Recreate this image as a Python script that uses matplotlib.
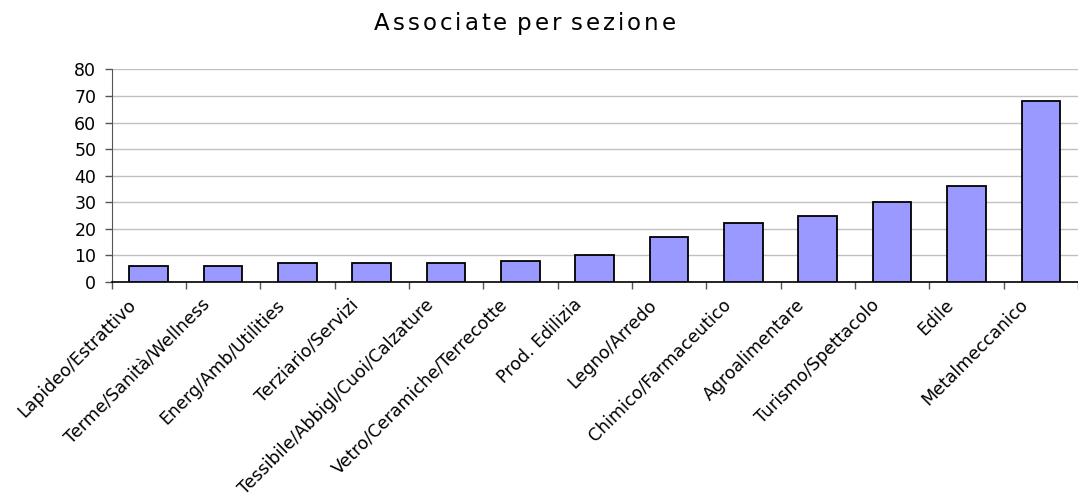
import matplotlib
matplotlib.use("Agg")
import matplotlib.pyplot as plt
import matplotlib.transforms as mtransforms
from matplotlib.font_manager import FontProperties
import numpy as np

sezioni = ["Lapideo/Estrattivo", "Terme/Sanità/Wellness", "Energ/Amb/Utilities",
           "Terziario/Servizi", "Tessibile/Abbigl/Cuoi/Calzature",
           "Vetro/Ceramiche/Terrecotte", "Prod. Edilizia", "Legno/Arredo",
           "Chimico/Farmaceutico", "Agroalimentare", "Turismo/Spettacolo",
           "Edile", "Metalmeccanico"]
associate = [6, 6, 7, 7, 7, 8, 10, 17, 22, 25, 30, 36, 68]
y_ticks = [0, 10, 20, 30, 40, 50, 60, 70, 80]
titolo = "Associate per sezione"

plt.rcParams["font.family"] = ["DejaVu Sans"]

fig = plt.figure(figsize=(10.78, 4.99), dpi=100)
ax = fig.add_axes([0.1035, 0.435, 0.8965, 0.426])

x = np.arange(len(sezioni))
ax.bar(x, associate, width=0.52, color="#9999ff", edgecolor="black", linewidth=1.3, zorder=3)

ax.set_xlim(-0.5, len(sezioni) - 0.5)
ax.set_ylim(0, 80)
ax.set_yticks(y_ticks)
ax.yaxis.grid(True, color="#c0c0c0", lw=1.0, zorder=0)
ax.tick_params(axis="y", labelsize=12.5, length=5, width=1, color="#555555", pad=6)

ax.set_xticks(x)
ax.set_xticklabels(sezioni, rotation=45, ha="right", rotation_mode="anchor", fontsize=12.5)
ax.set_xticks(np.arange(-0.5, len(sezioni)), minor=True)
ax.tick_params(axis="x", which="major", length=0, pad=10)
ax.tick_params(axis="x", which="minor", length=5, width=1, color="#555555")
shift = mtransforms.ScaledTranslation(-22 / 100, 0, fig.dpi_scale_trans)
for lab in ax.get_xticklabels():
    lab.set_transform(lab.get_transform() + shift)

for s in ["top", "right"]:
    ax.spines[s].set_visible(False)
ax.spines["left"].set_color("#555555")
ax.spines["bottom"].set_color("black")
ax.spines["bottom"].set_linewidth(1.2)

# title with letter spacing, drawn character by character
renderer = fig.canvas.get_renderer()
prop = FontProperties(family="DejaVu Sans", size=16.5)
gap = 3.0  # px between characters
widths = []
for c in titolo:
    w = renderer.get_text_width_height_descent(c, prop, ismath=False)[0]
    widths.append(w * 0.5 if c == " " else w)
total = sum(widths) + gap * (len(titolo) - 1)
cx, cy = 0.487 * fig.bbox.width, 0.952 * fig.bbox.height
pos = cx - total / 2
for c, w in zip(titolo, widths):
    fig.text(pos / fig.bbox.width, cy / fig.bbox.height, c, ha="left", va="center",
             fontproperties=prop)
    pos += w + gap

fig.savefig("out.png", dpi=100)
